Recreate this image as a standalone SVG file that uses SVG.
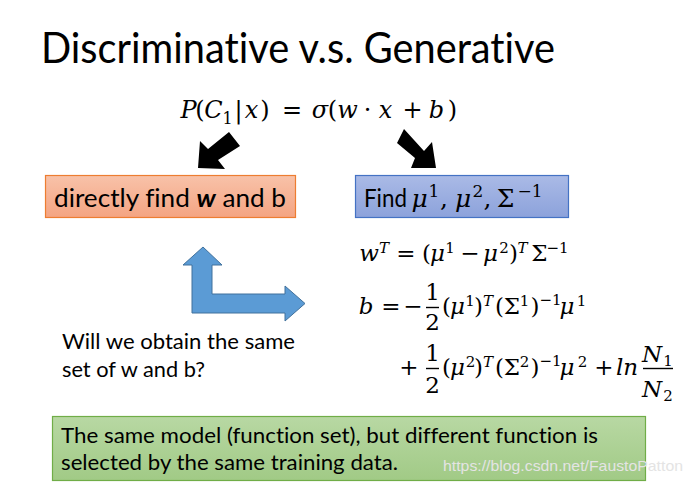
<svg xmlns="http://www.w3.org/2000/svg" width="691" height="488" viewBox="0 0 691 488">
<defs>
<linearGradient id="gO" x1="0" y1="0" x2="0" y2="1"><stop offset="0" stop-color="#F8C2A9"/><stop offset="1" stop-color="#F4A482"/></linearGradient>
<linearGradient id="gB" x1="0" y1="0" x2="0" y2="1"><stop offset="0" stop-color="#AABAE6"/><stop offset="1" stop-color="#8CA2DB"/></linearGradient>
<linearGradient id="gG" x1="0" y1="0" x2="0" y2="1"><stop offset="0" stop-color="#B8D8A3"/><stop offset="1" stop-color="#A1CA86"/></linearGradient>
<style>
.sans{font-family:Lato,"Open Sans",sans-serif;fill:#000;font-variant-ligatures:none}
.mi{font-family:"DejaVu Serif",serif;font-style:italic;fill:#000;text-anchor:middle}
.mu{font-family:"DejaVu Serif",serif;font-style:normal;fill:#000;text-anchor:middle}
.f24{font-size:24px}.f23{font-size:23px}.f25{font-size:25px}.f16{font-size:16px}.f15{font-size:15px}.f17{font-size:17px}
.fl{stroke:#000;stroke-width:1.4}
</style>
</defs>
<rect width="691" height="488" fill="#fff"/>

<g id="title">
<text class="sans" x="41" y="63" font-size="42" textLength="514" lengthAdjust="spacingAndGlyphs">Discriminative v.s. Generative</text>
</g>

<g id="formula-top">
<text class="mi f24" x="188.5" y="118">P</text>
<text class="mu f24" x="200" y="118">(</text>
<text class="mi f24" x="213.5" y="118">C</text>
<text class="mu f16" x="227.5" y="124">1</text>
<text class="mu f24" x="238.5" y="118">|</text>
<text class="mi f24" x="251.5" y="118">x</text>
<text class="mu f24" x="265" y="118">)</text>
<text class="mu f24" x="292" y="118">=</text>
<text class="mi f24" x="320" y="118">σ</text>
<text class="mu f24" x="332.5" y="118">(</text>
<text class="mi f24" x="347.5" y="118">w</text>
<text class="mu f24" x="367.5" y="118">·</text>
<text class="mi f24" x="385.5" y="118">x</text>
<text class="mu f24" x="412.5" y="118">+</text>
<text class="mi f24" x="436.5" y="118">b</text>
<text class="mu f24" x="452.5" y="118">)</text>
</g>

<g id="connectors">
<polygon points="198,168 200,141 208,149 229,132 240,146 218,160 225,169" fill="#000"/>
<polygon points="404,129 424,151 432,142 436,168 411,168 415,158 397,143" fill="#000"/>
<polygon points="203,247 222,265 212,265 212,294 285,294 285,286 305,303.5 285,321 285,313 192,313 192,265 183,265" fill="#5B9BD5" stroke="#41719C" stroke-width="1"/>
</g>

<g id="node-discriminative">
<rect x="45.5" y="175.5" width="250" height="42" fill="url(#gO)" stroke="#ED7D31" stroke-width="1.2"/>
<text class="sans" x="54" y="207" font-size="25" textLength="232" lengthAdjust="spacingAndGlyphs">directly find <tspan font-weight="bold" font-style="italic">w</tspan> and b</text>
</g>

<g id="node-generative">
<rect x="355.5" y="175.5" width="213" height="42" fill="url(#gB)" stroke="#4472C4" stroke-width="1.2"/>
<text class="sans" x="364" y="207" font-size="25" textLength="43" lengthAdjust="spacingAndGlyphs">Find</text>
<text class="mi f25" x="419.5" y="207">μ</text>
<text class="mu f17" x="434" y="197">1</text>
<text class="mu f25" x="444" y="207">,</text>
<text class="mi f25" x="463" y="207">μ</text>
<text class="mu f17" x="478" y="197">2</text>
<text class="mu f25" x="487.5" y="207">,</text>
<text class="mu f25" x="505.5" y="207">Σ</text>
<text class="mu f17" x="530" y="197">−1</text>
</g>

<g id="question">
<text class="sans" x="62" y="349" font-size="21" textLength="233" lengthAdjust="spacingAndGlyphs">Will we obtain the same</text>
<text class="sans" x="62" y="377" font-size="21" textLength="143" lengthAdjust="spacingAndGlyphs">set of w and b?</text>
</g>

<g id="equations">
<!-- line 1 -->
<text class="mi f23" x="369" y="261">w</text>
<text class="mi f15" x="384" y="253">T</text>
<text class="mu f23" x="406" y="261">=</text>
<text class="mu f23" x="426.5" y="261">(</text>
<text class="mi f23" x="437.5" y="261">μ</text>
<text class="mu f15" x="450" y="253">1</text>
<text class="mu f23" x="470" y="261">−</text>
<text class="mi f23" x="490.5" y="261">μ</text>
<text class="mu f15" x="504" y="253">2</text>
<text class="mu f23" x="513.5" y="261">)</text>
<text class="mi f15" x="522.5" y="253">T</text>
<text class="mu f23" x="539.5" y="261">Σ</text>
<text class="mu f15" x="557.5" y="253">−1</text>
<!-- line 2 -->
<text class="mi f23" x="366" y="314">b</text>
<text class="mu f23" x="391" y="314">=</text>
<text class="mu f23" x="413" y="314">−</text>
<text class="mu f23" x="432.5" y="300">1</text>
<line class="fl" x1="426" y1="307.5" x2="439" y2="307.5"/>
<text class="mu f23" x="432.5" y="330">2</text>
<text class="mu f23" x="446.5" y="314">(</text>
<text class="mi f23" x="457.5" y="314">μ</text>
<text class="mu f15" x="470" y="306">1</text>
<text class="mu f23" x="478.5" y="314">)</text>
<text class="mi f15" x="488" y="306">T</text>
<text class="mu f23" x="499.5" y="314">(</text>
<text class="mu f23" x="512" y="314">Σ</text>
<text class="mu f15" x="524.5" y="306">1</text>
<text class="mu f23" x="535" y="314">)</text>
<text class="mu f15" x="550.5" y="305">−1</text>
<text class="mi f23" x="567" y="314">μ</text>
<text class="mu f15" x="581.5" y="306">1</text>
<!-- line 3 -->
<text class="mu f23" x="409" y="375">+</text>
<text class="mu f23" x="432.5" y="361">1</text>
<line class="fl" x1="426" y1="368.5" x2="439" y2="368.5"/>
<text class="mu f23" x="432.5" y="393">2</text>
<text class="mu f23" x="446.5" y="375">(</text>
<text class="mi f23" x="457.5" y="375">μ</text>
<text class="mu f15" x="470.5" y="367">2</text>
<text class="mu f23" x="478.5" y="375">)</text>
<text class="mi f15" x="488" y="367">T</text>
<text class="mu f23" x="499.5" y="375">(</text>
<text class="mu f23" x="512" y="375">Σ</text>
<text class="mu f15" x="524.5" y="367">2</text>
<text class="mu f23" x="535" y="375">)</text>
<text class="mu f15" x="550.5" y="366">−1</text>
<text class="mi f23" x="567" y="375">μ</text>
<text class="mu f15" x="582.5" y="367">2</text>
<text class="mu f23" x="604" y="375">+</text>
<text class="mi f23" x="627" y="375">ln</text>
<text class="mi f23" x="652" y="362">N</text>
<text class="mu f15" x="668" y="366">1</text>
<line class="fl" x1="643" y1="368.5" x2="673" y2="368.5"/>
<text class="mi f23" x="652" y="397">N</text>
<text class="mu f15" x="668" y="401">2</text>
</g>

<g id="node-conclusion">
<rect x="52.5" y="416.5" width="593" height="64" fill="url(#gG)" stroke="#70AD47" stroke-width="1.2"/>
<text class="sans" x="61" y="443" font-size="21" textLength="537" lengthAdjust="spacingAndGlyphs">The same model (function set), but different function is</text>
<text class="sans" x="61" y="470" font-size="21" textLength="337" lengthAdjust="spacingAndGlyphs">selected by the same training data.</text>
</g>

<g id="watermark">
<text x="443" y="471" font-family="'Liberation Sans',Arial,sans-serif" font-size="15" fill="#E4E4E4" textLength="240" lengthAdjust="spacingAndGlyphs">https://blog.csdn.net/FaustoPatton</text>
</g>
</svg>
